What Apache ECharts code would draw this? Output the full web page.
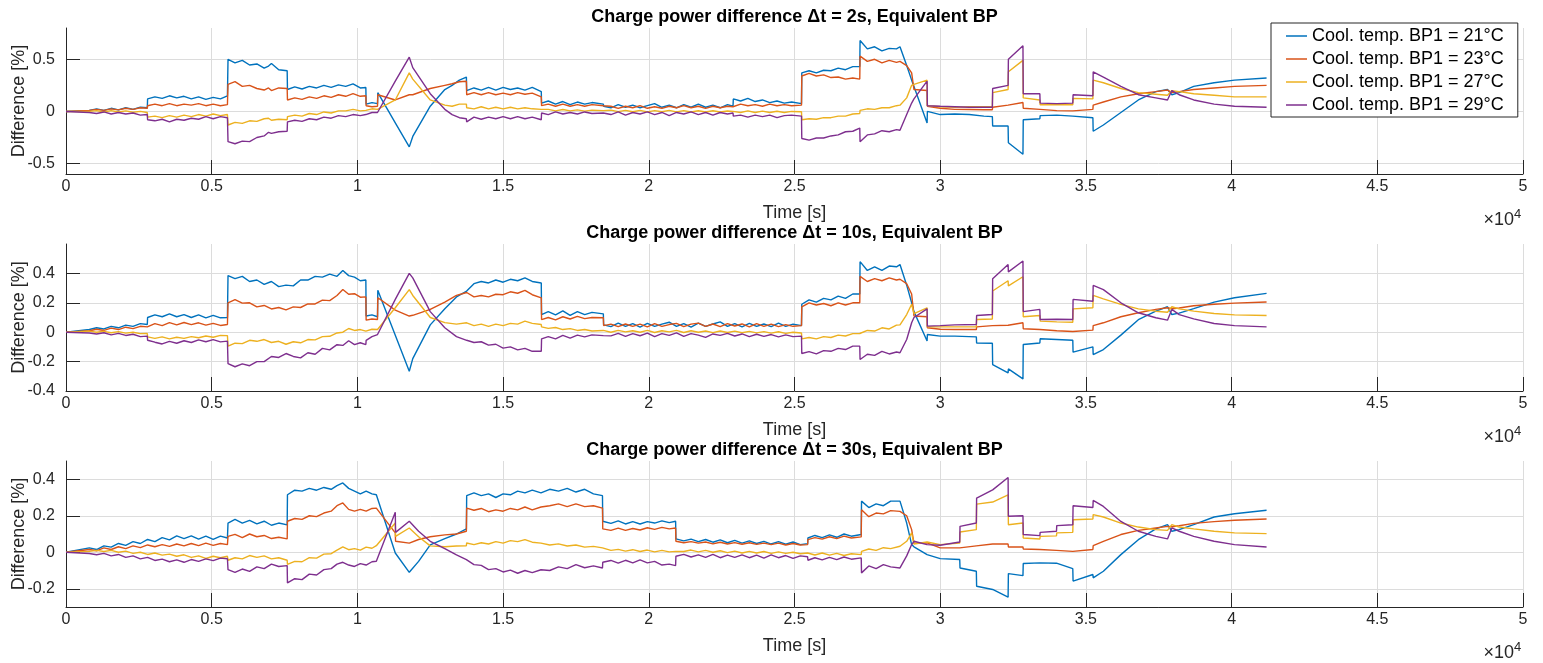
<!DOCTYPE html>
<html>
<head>
<meta charset="utf-8">
<script src="https://cdn.jsdelivr.net/npm/echarts@6/dist/echarts.min.js"></script>
<style>
  html, body { margin: 0; padding: 0; background: #ffffff; }
  #chart { width: 1543px; height: 663px; }
</style>
</head>
<body>
<div id="chart"></div>
<script>
// Series labels and MATLAB default line colours
const seriesNames = [
  'Cool. temp. BP1 = 21\u00B0C',
  'Cool. temp. BP1 = 23\u00B0C',
  'Cool. temp. BP1 = 27\u00B0C',
  'Cool. temp. BP1 = 29\u00B0C'
];
const lineColors = ['#0072BD', '#D95319', '#EDB120', '#7E2F8E'];
const panelTitles = [
  'Charge power difference \u0394t = 2s, Equivalent BP',
  'Charge power difference \u0394t = 10s, Equivalent BP',
  'Charge power difference \u0394t = 30s, Equivalent BP'
];

// x axis ticks (s) and y tick values per panel
const timeTicks = [0, 5000, 10000, 15000, 20000, 25000, 30000, 35000, 40000, 45000, 50000];
const yTicks2s = [-0.5, 0, 0.5];
const yTicks10s = [-0.4, -0.2, 0, 0.2, 0.4];
const yTicks30s = [-0.2, 0, 0.2, 0.4];

// ---------------- dt = 2 s ----------------
const time2s = [
  0, 800, 1050, 1300, 1550, 1800, 2050, 2300, 2550, 2790,
  2800, 3050, 3300, 3550, 3800, 4050, 4300, 4550, 4800, 5050, 5300, 5540,
  5560, 5800, 6050, 6300, 6550, 6800, 6950, 7050, 7300, 7590,
  7600, 7850, 8100, 8350, 8600, 8850, 9100, 9350, 9600, 9850, 10100, 10290,
  10300, 10500, 10690,
  10700, 11300, 11780, 11900, 12500, 13000, 13250, 13500, 13740,
  13750, 14000, 14250, 14500, 14750, 15000, 15250, 15500, 15750, 16000, 16310,
  16320, 16550, 16800, 17050, 17300, 17550, 17800, 18050, 18440,
  18450, 18700, 18950, 19200, 19450, 19700, 19950, 20200, 20450, 20700, 20950, 21200, 21450, 21700, 21950, 22200, 22450, 22700, 22890,
  22900, 23150, 23400, 23650, 23900, 24150, 24400, 24650, 24900, 25240,
  25250, 25500, 25750, 26000, 26250, 26500, 26750, 27000, 27240,
  27250, 27500, 27750, 28000, 28250, 28500, 28620, 28850, 29020, 29100, 29550,
  29560, 30000, 30500, 31000, 31500, 31790,
  31800, 32330,
  32340, 32840,
  32850, 33420,
  33430, 34000, 34550,
  34560, 35240,
  35250, 35600, 36200, 36800, 37400, 37800, 37950, 38200, 38700, 39400, 40100, 41200
];
const diff2s_21 = [
  0, 0.01, 0.025, 0.01, 0.03, 0.015, 0.035, 0.02, 0.04, 0.035,
  0.12, 0.14, 0.125, 0.15, 0.13, 0.145, 0.12, 0.14, 0.115, 0.135, 0.12, 0.15,
  0.50, 0.465, 0.49, 0.445, 0.455, 0.415, 0.435, 0.46, 0.40, 0.39,
  0.21, 0.235, 0.215, 0.24, 0.225, 0.25, 0.23, 0.255, 0.24, 0.265, 0.225, 0.23,
  0.07, 0.085, 0.075,
  0.18, -0.11, -0.34, -0.24, 0.05, 0.21, 0.25, 0.30, 0.33,
  0.20, 0.225, 0.205, 0.23, 0.205, 0.23, 0.21, 0.225, 0.205, 0.23, 0.19,
  0.08, 0.1, 0.07, 0.095, 0.065, 0.09, 0.07, 0.085, 0.07,
  0.05, 0.035, 0.065, 0.04, 0.06, 0.035, 0.055, 0.075, 0.04, 0.06, 0.035, 0.065, 0.04, 0.07, 0.04, 0.06, 0.035, 0.065, 0.05,
  0.12, 0.1, 0.125, 0.095, 0.11, 0.085, 0.1, 0.08, 0.09, 0.075,
  0.37, 0.39, 0.37, 0.395, 0.39, 0.415, 0.4, 0.43, 0.43,
  0.68, 0.6, 0.62, 0.58, 0.605, 0.6, 0.62, 0.44, 0.30, 0.24, -0.11,
  0.0, -0.03, -0.025, -0.03, -0.045, -0.05,
  -0.14, -0.14,
  -0.30, -0.41,
  -0.08, -0.07,
  -0.04, -0.035, -0.045,
  -0.06, -0.06,
  -0.19, -0.13, -0.01, 0.11, 0.19, 0.21, 0.16, 0.18, 0.24, 0.275, 0.30, 0.32
];
const diff2s_23 = [
  0, 0.01, 0.02, 0.01, 0.025, 0.015, 0.03, 0.02, 0.035, 0.03,
  0.055, 0.07, 0.055, 0.075, 0.055, 0.07, 0.06, 0.075, 0.055, 0.07, 0.055, 0.065,
  0.26, 0.285, 0.24, 0.25, 0.22, 0.205, 0.225, 0.2, 0.225, 0.22,
  0.11, 0.13, 0.115, 0.14, 0.125, 0.15, 0.135, 0.16, 0.145, 0.17, 0.145, 0.15,
  0.055, 0.045, 0.05,
  0.16, 0.11, 0.16, 0.16, 0.22, 0.25, 0.265, 0.285, 0.29,
  0.16, 0.18, 0.16, 0.18, 0.16, 0.175, 0.16, 0.18, 0.165, 0.175, 0.14,
  0.055, 0.07, 0.05, 0.07, 0.05, 0.065, 0.05, 0.065, 0.055,
  0.04, 0.05, 0.03, 0.05, 0.035, 0.055, 0.03, 0.045, 0.03, 0.05, 0.035, 0.055, 0.035, 0.05, 0.03, 0.05, 0.035, 0.05, 0.045,
  0.055, 0.07, 0.055, 0.065, 0.05, 0.07, 0.055, 0.065, 0.055, 0.06,
  0.34, 0.365, 0.34, 0.35, 0.325, 0.33, 0.31, 0.32, 0.31,
  0.53, 0.48, 0.5, 0.465, 0.49, 0.47, 0.48, 0.44, 0.37, 0.21, 0.20,
  0.05, 0.03, 0.02, 0.018, 0.016, 0.016,
  0.04, 0.06,
  0.065, 0.085,
  0.03, 0.02,
  0.015, 0.008, 0.005,
  0.005, 0.02,
  0.06, 0.09, 0.14, 0.17, 0.19, 0.205, 0.18, 0.19, 0.21, 0.225, 0.24, 0.25
];
const diff2s_27 = [
  0, 0.0, 0.008, -0.005, 0.008, -0.005, 0.005, -0.008, 0.0, -0.01,
  -0.055, -0.045, -0.06, -0.04, -0.055, -0.035, -0.05, -0.03, -0.045, -0.025, -0.04, -0.03,
  -0.13, -0.105, -0.115, -0.09, -0.095, -0.07, -0.065, -0.085, -0.075, -0.08,
  -0.05, -0.035, -0.045, -0.02, -0.03, -0.005, -0.015, 0.005, 0.005, 0.02, 0.005, 0.01,
  0.015, 0.025, 0.02,
  0.02, 0.11, 0.37, 0.31, 0.11, 0.06, 0.05, 0.07, 0.07,
  0.035, 0.025, 0.045, 0.025, 0.04, 0.025, 0.04, 0.025, 0.035, 0.025, 0.02,
  0.015, 0.02, 0.005, 0.018, 0.005, 0.015, 0.003, 0.012, 0.008,
  0.005, 0.012, -0.002, 0.01, -0.003, 0.01, -0.004, 0.008, -0.003, 0.01, -0.004, 0.008, -0.006, 0.006, -0.005, 0.007, -0.006, 0.004, 0.0,
  0.0, -0.01, 0.005, -0.01, 0.003, -0.01, 0.002, -0.01, 0.0, -0.003,
  -0.08, -0.07, -0.075, -0.06, -0.06, -0.045, -0.045, -0.025, -0.02,
  0.01, 0.025, 0.02, 0.035, 0.035, 0.055, 0.06, 0.13, 0.25, 0.26, 0.30,
  0.055, 0.045, 0.04, 0.045, 0.045, 0.046,
  0.18, 0.21,
  0.38, 0.49,
  0.13, 0.11,
  0.064, 0.064, 0.064,
  0.125, 0.12,
  0.30, 0.275, 0.22, 0.18, 0.165, 0.155, 0.20, 0.19, 0.17, 0.155, 0.14, 0.14
];
const diff2s_29 = [
  0, -0.01, -0.02, -0.005, -0.025, -0.01, -0.025, -0.015, -0.035, -0.03,
  -0.08, -0.09, -0.075, -0.1, -0.075, -0.085, -0.065, -0.075, -0.05, -0.07, -0.05, -0.06,
  -0.29, -0.31, -0.285, -0.29, -0.25, -0.235, -0.2, -0.21, -0.195, -0.19,
  -0.10, -0.085, -0.095, -0.07, -0.08, -0.055, -0.065, -0.04, -0.05, -0.03, -0.04, -0.03,
  -0.02, -0.01, -0.01,
  0.0, 0.29, 0.52, 0.42, 0.17, 0.02, -0.03, -0.06, -0.07,
  -0.10, -0.055, -0.075, -0.055, -0.07, -0.05, -0.07, -0.05, -0.07, -0.055, -0.08,
  -0.015, -0.03, -0.005, -0.025, -0.01, -0.025, -0.005, -0.02, -0.015,
  -0.015, -0.03, -0.005, -0.035, -0.01, -0.025, -0.005, -0.03, -0.01, -0.04, -0.01, -0.025, -0.005, -0.03, -0.01, -0.035, -0.01, -0.025, -0.015,
  -0.045, -0.035, -0.055, -0.035, -0.05, -0.035, -0.06, -0.04, -0.035, -0.045,
  -0.26, -0.275, -0.255, -0.255, -0.235, -0.225, -0.195, -0.19, -0.16,
  -0.29, -0.225, -0.215, -0.185, -0.195, -0.175, -0.18, -0.03, 0.08, 0.12, 0.29,
  0.055, 0.05, 0.045, 0.04, 0.04, 0.04,
  0.22, 0.25,
  0.50, 0.63,
  0.17, 0.17,
  0.08, 0.075, 0.08,
  0.16, 0.15,
  0.38, 0.33, 0.24, 0.16, 0.13, 0.11, 0.20, 0.16, 0.11, 0.07, 0.05, 0.04
];

// ---------------- dt = 10 s ----------------
const time10s = [
  0, 800, 1050, 1300, 1550, 1800, 2050, 2300, 2550, 2790,
  2800, 3050, 3300, 3550, 3800, 4050, 4300, 4550, 4800, 5050, 5300, 5540,
  5560, 5800, 6050, 6300, 6550, 6800, 7050, 7300, 7550, 7800, 8050, 8300, 8550, 8800, 9050, 9300, 9500, 9700, 9900, 10100, 10290,
  10300, 10500, 10690,
  10700, 11300, 11780, 11900, 12500, 13000, 13400, 13750, 14000, 14250, 14500, 14750, 15000, 15250, 15500, 15750, 16000, 16310,
  16320, 16550, 16800, 17050, 17300, 17550, 17800, 18050, 18440,
  18450, 18700, 18950, 19200, 19450, 19700, 19950, 20200, 20450, 20700, 20950, 21200, 21450, 21700, 21950, 22200, 22450, 22700, 22950, 23200, 23450, 23700, 23950, 24200, 24450, 24700, 24950, 25240,
  25250, 25500, 25750, 26000, 26250, 26500, 26750, 27000, 27240,
  27250, 27500, 27750, 28000, 28250, 28500, 28620, 28850, 29020, 29100, 29550,
  29560, 30000, 30500, 31240,
  31250, 31790,
  31800, 32330, 32340, 32840,
  32850, 33420,
  33430, 34000, 34550,
  34560, 35240,
  35250, 35600, 36200, 36800, 37400, 37800, 37950, 38200, 38700, 39400, 40100, 41200
];
const diff10s_21 = [
  0, 0.018, 0.03, 0.022, 0.04, 0.03, 0.048, 0.04, 0.058, 0.052,
  0.10, 0.118, 0.105, 0.125, 0.105, 0.12, 0.1, 0.118, 0.098, 0.115, 0.098, 0.10,
  0.385, 0.365, 0.38, 0.345, 0.355, 0.325, 0.345, 0.31, 0.32, 0.315, 0.355, 0.355, 0.38, 0.375, 0.395, 0.38, 0.42, 0.385, 0.375, 0.35, 0.355,
  0.11, 0.118, 0.105,
  0.286, -0.02, -0.266, -0.18, 0.05, 0.16, 0.24, 0.28, 0.33, 0.345, 0.335, 0.355, 0.34, 0.36, 0.35, 0.37, 0.345, 0.335,
  0.12, 0.14, 0.118, 0.145, 0.115, 0.14, 0.12, 0.135, 0.125,
  0.05, 0.038, 0.062, 0.04, 0.058, 0.035, 0.06, 0.04, 0.055, 0.068, 0.04, 0.058, 0.035, 0.062, 0.04, 0.056, 0.07, 0.04, 0.058, 0.036, 0.06, 0.04, 0.056, 0.038, 0.062, 0.04, 0.055, 0.045,
  0.19, 0.22, 0.205, 0.23, 0.22, 0.245, 0.23, 0.26, 0.26,
  0.48, 0.42, 0.445, 0.42, 0.45, 0.445, 0.46, 0.32, 0.20, 0.14, -0.06,
  -0.016, -0.027, -0.027, -0.032,
  -0.073, -0.075,
  -0.22, -0.277, -0.25, -0.318,
  -0.084, -0.073,
  -0.045, -0.05, -0.055,
  -0.136, -0.10,
  -0.152, -0.118, -0.02, 0.085, 0.143, 0.173, 0.12, 0.13, 0.16, 0.205, 0.234, 0.264
];
const diff10s_23 = [
  0, 0.01, 0.02, 0.012, 0.028, 0.018, 0.034, 0.024, 0.04, 0.036,
  0.045, 0.058, 0.045, 0.065, 0.05, 0.066, 0.052, 0.064, 0.048, 0.06, 0.046, 0.052,
  0.20, 0.222, 0.198, 0.2, 0.172, 0.182, 0.158, 0.168, 0.152, 0.172, 0.168, 0.192, 0.192, 0.218, 0.215, 0.25, 0.29, 0.258, 0.262, 0.238, 0.24,
  0.082, 0.09, 0.086,
  0.234, 0.15, 0.11, 0.115, 0.155, 0.205, 0.25, 0.27, 0.24, 0.25, 0.24, 0.258, 0.255, 0.275, 0.265, 0.285, 0.255, 0.234,
  0.086, 0.1, 0.084, 0.105, 0.09, 0.108, 0.092, 0.1, 0.098,
  0.045, 0.055, 0.038, 0.056, 0.04, 0.055, 0.036, 0.058, 0.04, 0.052, 0.06, 0.038, 0.055, 0.062, 0.04, 0.056, 0.038, 0.058, 0.042, 0.056, 0.036, 0.058, 0.04, 0.055, 0.038, 0.052, 0.04, 0.045,
  0.173, 0.2, 0.185, 0.195, 0.18, 0.2, 0.185, 0.2, 0.20,
  0.38, 0.345, 0.365, 0.35, 0.37, 0.355, 0.36, 0.33, 0.26, 0.11, 0.105,
  0.03, 0.02, 0.018, 0.018,
  0.036, 0.045,
  0.045, 0.047, 0.045, 0.064,
  0.023, 0.018,
  0.018, 0.01, 0.005,
  0.005, 0.014,
  0.045, 0.064, 0.105, 0.132, 0.155, 0.166, 0.16, 0.165, 0.18, 0.19, 0.198, 0.205
];
const diff10s_27 = [
  0, 0.007, 0.0, 0.006, -0.004, 0.004, -0.006, 0.0, -0.01, -0.009,
  -0.032, -0.042, -0.032, -0.045, -0.034, -0.042, -0.03, -0.038, -0.026, -0.034, -0.022, -0.023,
  -0.095, -0.075, -0.078, -0.055, -0.062, -0.05, -0.07, -0.062, -0.082, -0.065, -0.072, -0.05, -0.052, -0.03, -0.028, -0.005, 0.0, 0.025, 0.012, 0.018, 0.007,
  0.011, 0.02, 0.018,
  0.018, 0.166, 0.29, 0.25, 0.10, 0.065, 0.055, 0.064, 0.045, 0.055, 0.04, 0.055, 0.045, 0.06, 0.055, 0.075, 0.06, 0.052,
  0.036, 0.026, 0.032, 0.018, 0.024, 0.012, 0.018, 0.008, 0.012,
  0.007, 0.0, 0.012, 0.002, 0.01, 0.0, 0.012, -0.002, 0.01, 0.002, 0.012, -0.002, 0.01, 0.0, 0.008, -0.003, 0.008, -0.002, 0.007, -0.004, 0.006, -0.005, 0.004, -0.006, 0.003, -0.008, 0.0, -0.005,
  -0.045, -0.036, -0.045, -0.03, -0.036, -0.02, -0.026, -0.01, -0.009,
  0.0, 0.012, 0.008, 0.03, 0.022, 0.048, 0.05, 0.12, 0.19, 0.127, 0.166,
  0.036, 0.036, 0.036, 0.036,
  0.086, 0.09,
  0.28, 0.35, 0.315, 0.377,
  0.105, 0.114,
  0.075, 0.07, 0.068,
  0.159, 0.166,
  0.25, 0.227, 0.189, 0.159, 0.143, 0.136, 0.173, 0.159, 0.143, 0.127, 0.118, 0.114
];
const diff10s_29 = [
  0, -0.005, -0.012, -0.004, -0.018, -0.008, -0.022, -0.014, -0.03, -0.027,
  -0.055, -0.068, -0.08, -0.062, -0.075, -0.058, -0.07, -0.052, -0.065, -0.05, -0.066, -0.061,
  -0.214, -0.235, -0.215, -0.228, -0.2, -0.2, -0.165, -0.172, -0.145, -0.165, -0.175, -0.14, -0.15, -0.11, -0.12, -0.085, -0.09, -0.058, -0.085, -0.072, -0.084,
  -0.055, -0.03, -0.016,
  -0.016, 0.223, 0.40, 0.37, 0.14, 0.03, -0.03, -0.055, -0.07, -0.065, -0.088, -0.082, -0.108, -0.1, -0.12, -0.11, -0.13, -0.13,
  -0.045, -0.03, -0.045, -0.022, -0.04, -0.02, -0.032, -0.018, -0.023,
  -0.016, -0.025, -0.008, -0.028, -0.01, -0.024, -0.006, -0.03, -0.01, -0.022, -0.004, -0.028, -0.01, -0.02, -0.035, -0.012, -0.022, -0.008, -0.026, -0.012, -0.03, -0.014, -0.028, -0.016, -0.032, -0.018, -0.03, -0.027,
  -0.145, -0.132, -0.148, -0.125, -0.13, -0.11, -0.118, -0.095, -0.095,
  -0.186, -0.15, -0.158, -0.13, -0.148, -0.135, -0.14, -0.05, 0.064, 0.10, 0.159,
  0.041, 0.045, 0.05, 0.052,
  0.114, 0.12,
  0.364, 0.46, 0.41, 0.484,
  0.14, 0.155,
  0.086, 0.088, 0.086,
  0.223, 0.211,
  0.318, 0.29, 0.2, 0.132, 0.098, 0.082, 0.155, 0.12, 0.091, 0.059, 0.045, 0.036
];

// ---------------- dt = 30 s ----------------
const time30s = [
  0, 800, 1050, 1300, 1550, 1800, 2050, 2300, 2550, 2800, 3050, 3300, 3550, 3800, 4050, 4300, 4550, 4800, 5050, 5300, 5540,
  5560, 5800, 6050, 6300, 6550, 6800, 7050, 7300, 7590,
  7600, 7850, 8100, 8350, 8600, 8850, 9100, 9300, 9500, 9700, 9900, 10100, 10300, 10500, 10650, 11300,
  11310, 11780, 12100, 12500, 13000, 13400, 13740,
  13750, 14000, 14250, 14500, 14750, 15000, 15250, 15500, 15750, 16000, 16300, 16600, 16900, 17200, 17500, 17800, 18100, 18410,
  18420, 18700, 18950, 19200, 19450, 19700, 19950, 20200, 20450, 20700, 20920,
  20930, 21200, 21450, 21700, 21950, 22200, 22450, 22700, 22950, 23200, 23450, 23700, 23950, 24200, 24450, 24700, 24950, 25200, 25450,
  25460, 25700, 25950, 26200, 26450, 26700, 26950, 27290,
  27300, 27550, 27800, 28050, 28300, 28620, 28850, 29020, 29100, 29550,
  29560, 30000, 30670,
  30680, 31240,
  31250, 31800, 32330,
  32340, 32840,
  32850, 33420,
  33430, 33990,
  34000, 34550,
  34560, 35240,
  35250, 35600, 36200, 36800, 37400, 37800, 37950, 38200, 38700, 39400, 40100, 41200
];
const diff30s_21 = [
  0, 0.024, 0.015, 0.035, 0.028, 0.048, 0.038, 0.058, 0.048, 0.07, 0.058, 0.08, 0.068, 0.09, 0.075, 0.09, 0.072, 0.088, 0.07, 0.088, 0.078,
  0.16, 0.18, 0.16, 0.175, 0.155, 0.17, 0.148, 0.16, 0.15,
  0.315, 0.34, 0.335, 0.35, 0.34, 0.355, 0.345, 0.365, 0.38, 0.35, 0.335, 0.32, 0.335, 0.32, 0.315, -0.004,
  -0.01, -0.11, -0.05, 0.04, 0.075, 0.1, 0.128,
  0.31, 0.325, 0.31, 0.32, 0.3, 0.32, 0.315, 0.335, 0.325, 0.34, 0.325, 0.345, 0.335, 0.35, 0.33, 0.345, 0.32, 0.31,
  0.17, 0.158, 0.172, 0.155, 0.168, 0.155, 0.168, 0.16, 0.172, 0.162, 0.17,
  0.073, 0.062, 0.072, 0.058, 0.07, 0.055, 0.068, 0.052, 0.065, 0.05, 0.062, 0.048, 0.06, 0.045, 0.058, 0.044, 0.056, 0.042, 0.047,
  0.078, 0.092, 0.08, 0.095, 0.082, 0.1, 0.088, 0.097,
  0.28, 0.245, 0.265, 0.255, 0.28, 0.28, 0.16, 0.042, 0.03, -0.013,
  -0.013, -0.035, -0.04,
  -0.086, -0.104,
  -0.186, -0.204, -0.246,
  -0.117, -0.128,
  -0.062, -0.058,
  -0.05, -0.06,
  -0.065, -0.09,
  -0.158, -0.122,
  -0.14, -0.104, -0.013, 0.069, 0.128, 0.151, 0.115, 0.124, 0.151, 0.193, 0.211, 0.23
];
const diff30s_23 = [
  0, 0.015, 0.008, 0.024, 0.015, 0.03, 0.02, 0.035, 0.025, 0.04, 0.03, 0.042, 0.032, 0.045, 0.035, 0.048, 0.036, 0.05, 0.038, 0.048, 0.042,
  0.087, 0.098, 0.08, 0.1, 0.085, 0.092, 0.075, 0.082, 0.073,
  0.17, 0.185, 0.18, 0.2, 0.195, 0.215, 0.225, 0.255, 0.27, 0.235, 0.225, 0.235, 0.225, 0.24, 0.242, 0.106,
  0.06, 0.05, 0.07, 0.085, 0.095, 0.1, 0.115,
  0.242, 0.23, 0.24, 0.222, 0.232, 0.225, 0.24, 0.232, 0.248, 0.232, 0.248, 0.255, 0.265, 0.25, 0.265, 0.25, 0.255, 0.242,
  0.128, 0.12, 0.132, 0.12, 0.13, 0.122, 0.134, 0.125, 0.136, 0.128, 0.133,
  0.06, 0.052, 0.058, 0.05, 0.056, 0.046, 0.055, 0.045, 0.053, 0.044, 0.052, 0.043, 0.05, 0.042, 0.05, 0.04, 0.048, 0.04, 0.042,
  0.069, 0.08, 0.072, 0.085, 0.075, 0.088, 0.078, 0.084,
  0.233, 0.195, 0.215, 0.21, 0.228, 0.224, 0.2, 0.124, 0.05, 0.051,
  0.051, 0.024, 0.024,
  0.033, 0.035,
  0.042, 0.045, 0.045,
  0.029, 0.029,
  0.018, 0.015,
  0.012, 0.01,
  0.008, 0.005,
  0.005, 0.015,
  0.036, 0.06, 0.097, 0.12, 0.133, 0.142, 0.14, 0.145, 0.158, 0.168, 0.175, 0.182
];
const diff30s_27 = [
  0, 0.005, 0.01, 0.004, 0.01, 0.0, 0.006, -0.006, 0.0, -0.012, -0.004, -0.016, -0.01, -0.022, -0.014, -0.028, -0.02, -0.034, -0.022, -0.03, -0.022,
  -0.044, -0.03, -0.036, -0.018, -0.028, -0.02, -0.036, -0.03, -0.044,
  -0.067, -0.05, -0.052, -0.03, -0.032, -0.01, -0.008, 0.012, 0.029, 0.014, 0.02, 0.012, 0.028, 0.022, 0.036, 0.16,
  0.087, 0.133, 0.085, 0.035, 0.03, 0.034, 0.036,
  0.051, 0.042, 0.052, 0.045, 0.058, 0.05, 0.064, 0.058, 0.069, 0.055, 0.05, 0.04, 0.046, 0.034, 0.04, 0.028, 0.032, 0.024,
  0.018, 0.01, 0.016, 0.006, 0.014, 0.004, 0.012, 0.002, 0.01, 0.002, 0.005,
  0.011, 0.004, 0.012, 0.002, 0.01, 0.0, 0.008, -0.002, 0.006, -0.004, 0.005, -0.004, 0.004, -0.006, 0.002, -0.006, 0.0, -0.008, -0.004,
  -0.007, -0.015, -0.004, -0.016, -0.006, -0.018, -0.008, -0.013,
  0.005, 0.018, 0.01, 0.025, 0.02, 0.033, 0.06, 0.106, 0.045, 0.056,
  0.056, 0.042, 0.051,
  0.111, 0.124,
  0.264, 0.275, 0.315,
  0.151, 0.16,
  0.078, 0.073,
  0.087, 0.09,
  0.106, 0.109,
  0.178, 0.182,
  0.206, 0.193, 0.16, 0.138, 0.124, 0.12, 0.151, 0.138, 0.128, 0.115, 0.106, 0.102
];
const diff30s_29 = [
  0, -0.007, -0.014, -0.006, -0.02, -0.012, -0.028, -0.02, -0.036, -0.028, -0.045, -0.038, -0.052, -0.042, -0.055, -0.04, -0.05, -0.036, -0.046, -0.032, -0.036,
  -0.095, -0.11, -0.092, -0.105, -0.08, -0.09, -0.065, -0.078, -0.073,
  -0.168, -0.145, -0.15, -0.12, -0.125, -0.095, -0.09, -0.065, -0.055, -0.07, -0.078, -0.062, -0.07, -0.052, -0.049, 0.219,
  0.109, 0.17, 0.115, 0.06, 0.02, -0.015, -0.04,
  -0.04, -0.068, -0.072, -0.095, -0.09, -0.108, -0.098, -0.115, -0.1, -0.112, -0.096, -0.1, -0.08, -0.09, -0.068, -0.085, -0.075, -0.086,
  -0.055, -0.045, -0.06, -0.044, -0.058, -0.042, -0.058, -0.05, -0.07, -0.065, -0.073,
  -0.022, -0.012, -0.026, -0.014, -0.028, -0.012, -0.03, -0.016, -0.028, -0.014, -0.03, -0.016, -0.032, -0.014, -0.03, -0.018, -0.034, -0.02, -0.025,
  -0.044, -0.03, -0.042, -0.028, -0.04, -0.026, -0.038, -0.031,
  -0.113, -0.075, -0.09, -0.068, -0.08, -0.086, -0.02, 0.042, 0.06, 0.042,
  0.042, 0.038, 0.056,
  0.142, 0.16,
  0.297, 0.342, 0.41,
  0.197, 0.2,
  0.097, 0.091,
  0.109, 0.115,
  0.146, 0.151,
  0.255, 0.245,
  0.284, 0.251, 0.169, 0.115, 0.087, 0.073, 0.133, 0.115, 0.087, 0.06, 0.042, 0.029
];

// ---------------- layout ----------------
const FONT = '"Liberation Sans", Arial, Helvetica, sans-serif';
const INK = '#262626';
const GRID_LINE = '#dcdcdc';

const panels = [
  { time: time2s,  values: [diff2s_21, diff2s_23, diff2s_27, diff2s_29],     yMin: -0.6, yMax: 0.8, yTicks: yTicks2s,  top: 28,  height: 146 },
  { time: time10s, values: [diff10s_21, diff10s_23, diff10s_27, diff10s_29], yMin: -0.4, yMax: 0.6, yTicks: yTicks10s, top: 244, height: 147 },
  { time: time30s, values: [diff30s_21, diff30s_23, diff30s_27, diff30s_29], yMin: -0.3, yMax: 0.5, yTicks: yTicks30s, top: 461, height: 146 }
];
const plotLeft = 66, plotWidth = 1457;

const grids = [], xAxes = [], yAxes = [], series = [], graphics = [];

panels.forEach((p, i) => {
  grids.push({ left: plotLeft, top: p.top, width: plotWidth, height: p.height,
    containLabel: false, outerBoundsMode: 'none' });

  xAxes.push({
    type: 'value', gridIndex: i, min: 0, max: 50000, interval: 5000,
    name: 'Time [s]', nameLocation: 'middle', nameGap: 30, nameMoveOverlap: false,
    nameTextStyle: { fontSize: 18, color: INK, fontFamily: FONT },
    axisLine: { show: true, onZero: false, lineStyle: { color: INK, width: 1 } },
    axisTick: { show: true, inside: true, length: 14, customValues: timeTicks, lineStyle: { color: INK, width: 1 } },
    axisLabel: { show: true, margin: 5, fontSize: 16, color: INK, fontFamily: FONT, hideOverlap: false,
      customValues: timeTicks, formatter: v => String(Math.round(v / 1000) / 10) },
    splitLine: { show: true, lineStyle: { color: GRID_LINE, width: 1 } }
  });

  yAxes.push({
    type: 'value', gridIndex: i, min: p.yMin, max: p.yMax,
    name: 'Difference [%]', nameLocation: 'middle', nameGap: 38, nameRotate: 90, nameMoveOverlap: false,
    nameTextStyle: { fontSize: 18, color: INK, fontFamily: FONT },
    axisLine: { show: true, onZero: false, lineStyle: { color: INK, width: 1 } },
    axisTick: { show: true, inside: true, length: 14, customValues: p.yTicks, lineStyle: { color: INK, width: 1 } },
    axisLabel: { show: true, margin: 11, fontSize: 16, color: INK, fontFamily: FONT, hideOverlap: false,
      customValues: p.yTicks, formatter: v => String(Math.round(v * 10) / 10) },
    splitLine: { show: true, lineStyle: { color: GRID_LINE, width: 1 } }
  });

  p.values.forEach((vals, k) => {
    series.push({
      name: seriesNames[k], type: 'line', xAxisIndex: i, yAxisIndex: i,
      data: p.time.map((t, j) => [t, vals[j]]),
      showSymbol: false, symbol: 'none', smooth: false,
      lineStyle: { color: lineColors[k], width: 1.4 },
      itemStyle: { color: lineColors[k] },
      emphasis: { disabled: true }, silent: true, z: 2 + k
    });
  });

  // panel title
  graphics.push({
    type: 'text', x: plotLeft + plotWidth / 2, y: p.top - 11,
    style: { text: panelTitles[i], font: 'bold 18px ' + FONT, fill: '#000000',
      align: 'center', verticalAlign: 'middle' }
  });
  // x10^4 exponent under the right end of the time axis
  graphics.push({
    type: 'text', x: 1514, y: p.top + p.height + 46,
    style: { text: '\u00D710', font: '18px ' + FONT, fill: INK, align: 'right', verticalAlign: 'middle' }
  });
  graphics.push({
    type: 'text', x: 1514, y: p.top + p.height + 40,
    style: { text: '4', font: '13px ' + FONT, fill: INK, align: 'left', verticalAlign: 'middle' }
  });
});

const chart = echarts.init(document.getElementById('chart'), null, { renderer: 'canvas' });
chart.setOption({
  animation: false,
  backgroundColor: '#ffffff',
  color: lineColors,
  grid: grids,
  xAxis: xAxes,
  yAxis: yAxes,
  series: series,
  legend: {
    data: seriesNames.map(n => ({ name: n, icon: 'rect' })),
    orient: 'vertical', left: 1271, top: 23,
    itemWidth: 21, itemHeight: 1.5, itemGap: 5,
    padding: [4, 14, 3, 15],
    backgroundColor: '#ffffff', borderColor: INK, borderWidth: 1, borderRadius: 0,
    textStyle: { fontSize: 18, lineHeight: 18, color: '#000000', fontFamily: FONT },
    selectedMode: false
  },
  graphic: graphics
});
</script>
</body>
</html>
